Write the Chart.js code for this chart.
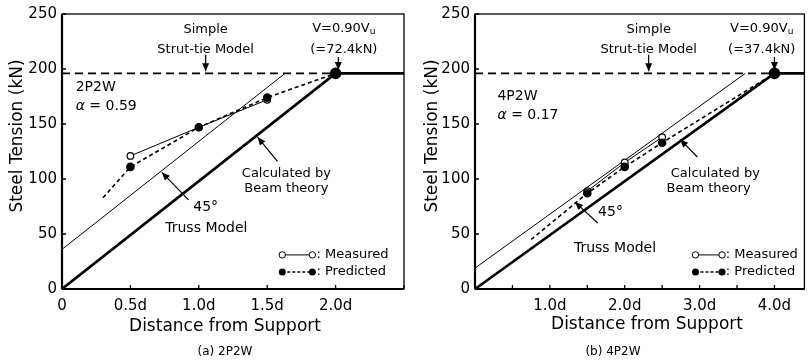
<!DOCTYPE html>
<html>
<head>
<meta charset="utf-8">
<script src="https://cdn.jsdelivr.net/npm/chart.js@4/dist/chart.umd.min.js"></script>
<style>
  body { margin: 0; background: #fff; }
  #wrap { position: relative; width: 811px; height: 362px; overflow: hidden; }
  canvas { position: absolute; top: 0; }
</style>
</head>
<body>
<div id="wrap">
  <canvas id="chartA" width="412" height="362" style="left:0px"></canvas>
  <canvas id="chartB" width="401" height="362" style="left:410px"></canvas>
</div>
<script>
// ---- (a) 2P2W ----
const strutTieA = 196;
const measuredXA = [0.5, 1.0, 1.5];
const measuredYA = [121, 147, 172];
const predictedXA = [0.3, 0.5, 1.0, 1.5, 2.0];
const predictedYA = [83, 111, 147, 174, 196];
const beamXA = [0, 2.0, 2.5];
const beamYA = [0, 196, 196];
const trussXA = [0, 1.63];
const trussYA = [36, 196];
const xTicksA = [0, 0.5, 1.0, 1.5, 2.0, 2.5];
const xLabelsA = ['0', '0.5d', '1.0d', '1.5d', '2.0d', ''];

// ---- (b) 4P2W ----
const strutTieB = 196;
const measuredXB = [1.5, 2.0, 2.5];
const measuredYB = [89, 115, 138];
const predictedXB = [0.75, 1.5, 2.0, 2.5, 4.0];
const predictedYB = [45, 87, 111, 133, 196];
const beamXB = [0, 4.0, 4.4];
const beamYB = [0, 196, 196];
const trussXB = [0, 3.61];
const trussYB = [19, 196];
const xTicksB = [0, 0.5, 1.0, 1.5, 2.0, 2.5, 3.0, 3.5, 4.0];
const xLabelsB = ['', '', '1.0d', '', '2.0d', '', '3.0d', '', '4.0d'];

const yTicks = [0, 50, 100, 150, 200, 250];
const yLabels = ['0', '50', '100', '150', '200', '250'];

const FONT = "'DejaVu Sans', sans-serif";

function pts(xs, ys) {
  return xs.map((x, i) => ({ x: x, y: ys[i] }));
}

function drawArrow(ctx, x1, y1, x2, y2) {
  ctx.beginPath();
  ctx.moveTo(x1, y1);
  ctx.lineTo(x2, y2);
  ctx.lineWidth = 1.2;
  ctx.stroke();
  const a = Math.atan2(y2 - y1, x2 - x1);
  const len = 8, w = 3.5;
  ctx.beginPath();
  ctx.moveTo(x2, y2);
  ctx.lineTo(x2 - len * Math.cos(a) + w * Math.sin(a), y2 - len * Math.sin(a) - w * Math.cos(a));
  ctx.lineTo(x2 - len * Math.cos(a) - w * Math.sin(a), y2 - len * Math.sin(a) + w * Math.cos(a));
  ctx.closePath();
  ctx.fill();
}

function decorPlugin(p) {
  return {
    id: 'decor',
    afterDatasetsDraw(chart) {
      const ctx = chart.ctx;
      const a = chart.chartArea;
      const xs = chart.scales.x, ys = chart.scales.y;
      const X = v => xs.getPixelForValue(v);
      const Y = v => ys.getPixelForValue(v);
      ctx.save();
      ctx.strokeStyle = '#000';
      ctx.fillStyle = '#000';

      // frame
      ctx.lineWidth = 1.3;
      ctx.strokeRect(a.left, a.top, a.right - a.left, a.bottom - a.top);
      ctx.lineWidth = 2.2;
      ctx.beginPath();
      ctx.moveTo(a.left, a.bottom); ctx.lineTo(a.right, a.bottom);
      ctx.moveTo(a.left, a.bottom); ctx.lineTo(a.left, a.top);
      ctx.stroke();

      // inward ticks
      ctx.lineWidth = 1.3;
      ctx.beginPath();
      p.xTicks.forEach(v => { ctx.moveTo(X(v), a.bottom); ctx.lineTo(X(v), a.bottom - 4); });
      yTicks.forEach(v => { ctx.moveTo(a.left, Y(v)); ctx.lineTo(a.left + 4, Y(v)); });
      ctx.stroke();

      ctx.textBaseline = 'middle';
      ctx.textAlign = 'center';
      ctx.font = '13px ' + FONT;
      p.notes.forEach(n => {
        ctx.font = (n.size || 13) + 'px ' + FONT;
        ctx.textAlign = n.align || 'center';
        ctx.fillText(n.text, X(n.x), Y(n.y));
      });

      // V=0.90Vu label with subscript
      const vx = X(p.vLabel.x), vy = Y(p.vLabel.y);
      ctx.font = '13px ' + FONT;
      const main = 'V=0.90V';
      const wMain = ctx.measureText(main).width;
      ctx.font = '9px ' + FONT;
      const wSub = ctx.measureText('u').width;
      ctx.textAlign = 'left';
      ctx.font = '13px ' + FONT;
      ctx.fillText(main, vx - (wMain + wSub) / 2, vy);
      ctx.font = '9px ' + FONT;
      ctx.fillText('u', vx - (wMain + wSub) / 2 + wMain, vy + 3);

      // alpha label
      ctx.font = 'italic 14px ' + FONT;
      const ax = X(p.alpha.x), ay = Y(p.alpha.y);
      ctx.fillText('\u03b1', ax, ay);
      const wa = ctx.measureText('\u03b1').width;
      ctx.font = '14px ' + FONT;
      ctx.fillText(' = ' + p.alpha.text, ax + wa, ay);
      ctx.fillText(p.name, ax, Y(p.nameY));

      // arrows
      p.arrows.forEach(r => drawArrow(ctx, X(r[0]), Y(r[1]), X(r[2]), Y(r[3])));

      // legend
      const lx1 = X(p.legend.x1), lx2 = X(p.legend.x2), lt = X(p.legend.tx);
      const ly1 = Y(p.legend.y1), ly2 = Y(p.legend.y2);
      ctx.lineWidth = 1;
      ctx.setLineDash([]);
      ctx.beginPath(); ctx.moveTo(lx1, ly1); ctx.lineTo(lx2, ly1); ctx.stroke();
      [lx1, lx2].forEach(x => {
        ctx.beginPath(); ctx.arc(x, ly1, 3.2, 0, Math.PI * 2);
        ctx.fillStyle = '#fff'; ctx.fill(); ctx.fillStyle = '#000'; ctx.stroke();
      });
      ctx.lineWidth = 1.5;
      ctx.setLineDash([3, 2]);
      ctx.beginPath(); ctx.moveTo(lx1, ly2); ctx.lineTo(lx2, ly2); ctx.stroke();
      ctx.setLineDash([]);
      [lx1, lx2].forEach(x => {
        ctx.beginPath(); ctx.arc(x, ly2, 3.5, 0, Math.PI * 2); ctx.fill();
      });
      ctx.font = '13px ' + FONT;
      ctx.textAlign = 'left';
      ctx.fillText(': Measured', lt, ly1);
      ctx.fillText(': Predicted', lt, ly2);

      // axis titles
      ctx.textAlign = 'center';
      ctx.font = '17px ' + FONT;
      ctx.fillText('Distance from Support', p.xTitle[0], p.xTitle[1]);
      ctx.font = '12px ' + FONT;
      ctx.fillText(p.caption, p.captionPos[0], p.captionPos[1]);
      ctx.save();
      ctx.translate(p.yTitle[0], p.yTitle[1]);
      ctx.rotate(-Math.PI / 2);
      ctx.font = '17px ' + FONT;
      ctx.fillText('Steel Tension (kN)', 0, 0);
      ctx.restore();

      ctx.restore();
    }
  };
}

function makeChart(id, d) {
  return new Chart(document.getElementById(id).getContext('2d'), {
    type: 'scatter',
    data: {
      datasets: [
        {
          label: 'Predicted',
          data: pts(d.predX, d.predY),
          showLine: true,
          borderColor: '#000',
          backgroundColor: '#000',
          borderWidth: 1.6,
          borderDash: [4, 3],
          pointRadius: d.predRadius,
          pointBackgroundColor: '#000',
          pointBorderColor: '#000'
        },
        {
          label: 'Measured',
          data: pts(d.measX, d.measY),
          showLine: true,
          borderColor: '#000',
          borderWidth: 1,
          pointRadius: 3.3,
          pointBorderWidth: 1.2,
          pointBackgroundColor: '#fff',
          pointBorderColor: '#000'
        },
        {
          label: 'Simple Strut-tie Model',
          data: pts([0, d.beamX[1]], [d.strut, d.strut]),
          showLine: true,
          borderColor: '#000',
          borderWidth: 1.6,
          borderDash: [8, 5],
          pointRadius: 0
        },
        {
          label: 'Calculated by Beam theory',
          data: pts(d.beamX, d.beamY),
          showLine: true,
          borderColor: '#000',
          borderWidth: 2.6,
          pointRadius: 0
        },
        {
          label: '45° Truss Model',
          data: pts(d.trussX, d.trussY),
          showLine: true,
          borderColor: '#000',
          borderWidth: 1,
          pointRadius: 0
        }
      ]
    },
    options: {
      responsive: false,
      animation: false,
      layout: { padding: { top: 14, right: d.padRight, left: 0, bottom: 0 } },
      plugins: { legend: { display: false }, tooltip: { enabled: false } },
      scales: {
        x: {
          type: 'linear', min: 0, max: d.xMax,
          grid: { display: false, drawTicks: false },
          border: { display: false },
          afterFit: s => { s.height = 73; },
          afterBuildTicks: s => { s.ticks = d.xTicks.map(v => ({ value: v })); },
          ticks: {
            autoSkip: false, maxRotation: 0, padding: 8, color: '#000',
            font: { family: FONT, size: 15 },
            callback: (v, i) => d.xLabels[i]
          }
        },
        y: {
          type: 'linear', min: 0, max: 250,
          grid: { display: false, drawTicks: false },
          border: { display: false },
          afterFit: s => { s.width = d.yWidth; },
          afterBuildTicks: s => { s.ticks = yTicks.map(v => ({ value: v })); },
          ticks: {
            autoSkip: false, padding: 5, color: '#000',
            font: { family: FONT, size: 15 },
            callback: (v, i) => yLabels[i]
          }
        }
      }
    },
    plugins: [decorPlugin(d.decor)]
  });
}

makeChart('chartA', {
  predX: predictedXA, predY: predictedYA, predRadius: [0, 3.5, 3.5, 3.5, 5],
  measX: measuredXA, measY: measuredYA,
  beamX: beamXA, beamY: beamYA, trussX: trussXA, trussY: trussYA,
  strut: strutTieA, xMax: 2.5, xTicks: xTicksA, xLabels: xLabelsA,
  yWidth: 62, padRight: 4,
  decor: {
    xTicks: xTicksA,
    notes: [
      { text: 'Simple', x: 1.05, y: 236 },
      { text: 'Strut-tie Model', x: 1.05, y: 218 },
      { text: '(=72.4kN)', x: 2.06, y: 218 },
      { text: 'Calculated by', x: 1.64, y: 105 },
      { text: 'Beam theory', x: 1.64, y: 91 },
      { text: '45\u00b0', x: 1.05, y: 74, size: 14 },
      { text: 'Truss Model', x: 1.055, y: 55, size: 14 }
    ],
    vLabel: { x: 2.06, y: 237 },
    alpha: { x: 0.1, y: 166, text: '0.59' },
    name: '2P2W', nameY: 183,
    arrows: [
      [1.05, 213, 1.05, 198],
      [2.02, 211, 2.02, 199],
      [1.575, 116, 1.43, 138],
      [0.925, 81, 0.73, 106]
    ],
    legend: { x1: 1.61, x2: 1.83, tx: 1.86, y1: 31, y2: 15.5 },
    xTitle: [225, 327], caption: '(a) 2P2W', captionPos: [225, 352],
    yTitle: [18, 136]
  }
});

makeChart('chartB', {
  predX: predictedXB, predY: predictedYB, predRadius: [0, 3.5, 3.5, 3.5, 5],
  measX: measuredXB, measY: measuredYB,
  beamX: beamXB, beamY: beamYB, trussX: trussXB, trussY: trussYB,
  strut: strutTieB, xMax: 4.4, xTicks: xTicksB, xLabels: xLabelsB,
  yWidth: 65, padRight: 0,
  decor: {
    xTicks: xTicksB,
    notes: [
      { text: 'Simple', x: 2.32, y: 236 },
      { text: 'Strut-tie Model', x: 2.32, y: 218 },
      { text: '(=37.4kN)', x: 3.83, y: 218 },
      { text: 'Calculated by', x: 3.21, y: 105 },
      { text: 'Beam theory', x: 3.12, y: 91 },
      { text: '45\u00b0', x: 1.81, y: 70, size: 14 },
      { text: 'Truss Model', x: 1.87, y: 37, size: 14 }
    ],
    vLabel: { x: 3.83, y: 237 },
    alpha: { x: 0.3, y: 158, text: '0.17' },
    name: '4P2W', nameY: 175,
    arrows: [
      [2.32, 213, 2.32, 198],
      [4.0, 211, 4.0, 199],
      [2.97, 120, 2.74, 136],
      [1.64, 60, 1.335, 79]
    ],
    legend: { x1: 2.945, x2: 3.3, tx: 3.35, y1: 31, y2: 15.5 },
    xTitle: [237, 325], caption: '(b) 4P2W', captionPos: [203, 352],
    yTitle: [23, 136]
  }
});
</script>
</body>
</html>
